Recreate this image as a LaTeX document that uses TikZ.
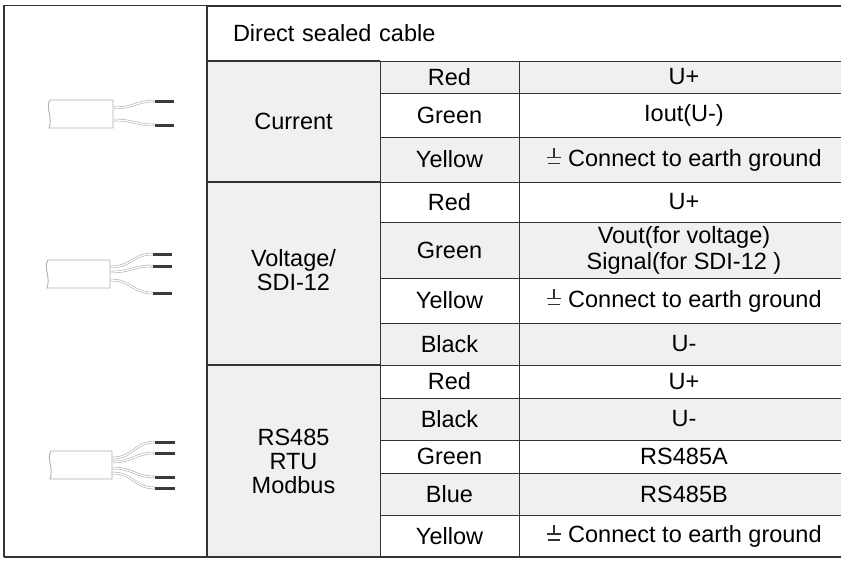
\documentclass[tikz,border=0pt]{standalone}
\usepackage{fontspec}
\setmainfont{Liberation Sans}
\definecolor{cellgray}{HTML}{F0F0F0}
\definecolor{rulegray}{HTML}{333333}
\definecolor{jacketgray}{HTML}{B0B0B0}
\definecolor{tipgray}{HTML}{3A3A3A}
% earth ground sign
\newcommand{\gnd}{\tikz[baseline=-1pt,x=1pt,y=1pt,line width=1.3pt,rulegray]{\draw (0,17)--(0,8) (-7,8)--(7,8) (-6,2)--(6,2);}}

\begin{document}
\begin{tikzpicture}[x=1pt,y=-1pt,
  cell/.style={draw=rulegray, line width=0.9pt, inner sep=0pt, text=black,
    font=\fontsize{23.5}{24}\selectfont, align=center},
  jacket/.style={draw=jacketgray, fill=white, line width=0.9pt},
  wire/.style={draw=jacketgray, double=white, double distance=1.3pt, line width=0.6pt},
  tipline/.style={draw=tipgray, line width=3pt},
  thickrule/.style={draw=rulegray, line width=2pt}]
 \useasboundingbox (0,0) rectangle (841,562);
 \fill[white] (0,0) rectangle (841,562);

 % first column with the cables
 \node[cell, fill=white, minimum width=203pt, minimum height=552pt] (pics) at (105.5,281) {};

 % group cells
 \node[cell, fill=cellgray, minimum width=173pt, minimum height=121pt] (cur) at (293.5,121.5) {Current};
 \node[cell, fill=cellgray, minimum width=173pt, minimum height=183pt] (volt) at (293.5,273.5) {\raisebox{-6pt}{\begin{tabular}{@{}c@{}}Voltage/\\SDI-12\end{tabular}}};
 \node[cell, fill=cellgray, minimum width=173pt, minimum height=192pt] (rs) at (293.5,461) {RS485\\RTU\\Modbus};

 % wire colour and function cells
 \foreach \n/\ya/\yb/\wc/\fn/\fl in {
   c1/61/93/Red/U+/cellgray,
   c2/93/137/Green/Iout(U-)/white,
   c3/137/182/Yellow/{\gnd\ Connect to earth ground}/cellgray,
   v1/182/222/Red/U+/white,
   v2/222/278/Green/{Vout(for voltage)\\Signal(for SDI-12 )}/cellgray,
   v3/278/323/Yellow/{\gnd\ Connect to earth ground}/white,
   v4/323/365/Black/U-/cellgray,
   r1/365/398/Red/U+/white,
   r2/398/440/Black/U-/cellgray,
   r3/440/473/Green/RS485A/white,
   r4/473/515/Blue/RS485B/cellgray,
   r5/515/557/Yellow/{\gnd\ Connect to earth ground}/white}
 {
   \node[cell, fill=\fl, minimum width=139pt, minimum height={(\yb-\ya)*1pt}] (\n w) at (449.5,{(\ya+\yb)/2}) {\wc};
   \node[cell, fill=\fl, minimum width=330pt, minimum height={(\yb-\ya)*1pt}, font=\fontsize{23.5}{26}\selectfont] (\n f) at (684,{(\ya+\yb)/2}) {\fn};
 }

 % header
 \node[cell, fill=white, minimum width=642pt, minimum height=55pt, text width=590pt,
   align=left, inner xsep=26pt] (head) at (528,33.5) {Direct sealed cable};

 % heavy rules
 \draw[thickrule] (207,6) -- (845,6);
 \draw[thickrule] (207,61) -- (380,61);
 \draw[thickrule] (207,182) -- (380,182);
 \draw[thickrule] (207,365) -- (380,365);
 \draw[thickrule] (4,557) -- (845,557);
 \draw[rulegray, line width=1.4pt] (4,5) -- (4,557);
 \draw[rulegray, line width=1.4pt] (207,5) -- (207,557);

 % cable for current output
 \draw[jacket] (113,100) -- (50,100) .. controls (45,108) and (53,116) .. (49,128) -- (113,128) -- cycle;
 \foreach \s/\t in {108/101, 120/125} {
   \draw[wire] (113,\s) .. controls (135,\s) and (135,\t) .. (155,\t);
   \draw[tipline] (155,\t) -- (174,\t);
 }

 % cable for voltage / SDI-12
 \draw[jacket] (110,260) -- (48,260) .. controls (43,268) and (51,276) .. (47,288) -- (110,288) -- cycle;
 \foreach \s/\t in {267/254, 272/266, 280/293} {
   \draw[wire] (110,\s) .. controls (132,\s) and (132,\t) .. (153,\t);
   \draw[tipline] (153,\t) -- (172,\t);
 }

 % cable for RS485
 \draw[jacket] (112,451) -- (51,451) .. controls (46,459) and (54,467) .. (50,479) -- (112,479) -- cycle;
 \foreach \s/\t in {458/442, 462/453, 468/477, 473/488} {
   \draw[wire] (112,\s) .. controls (134,\s) and (134,\t) .. (155,\t);
   \draw[tipline] (155,\t) -- (175,\t);
 }
\end{tikzpicture}
\end{document}
